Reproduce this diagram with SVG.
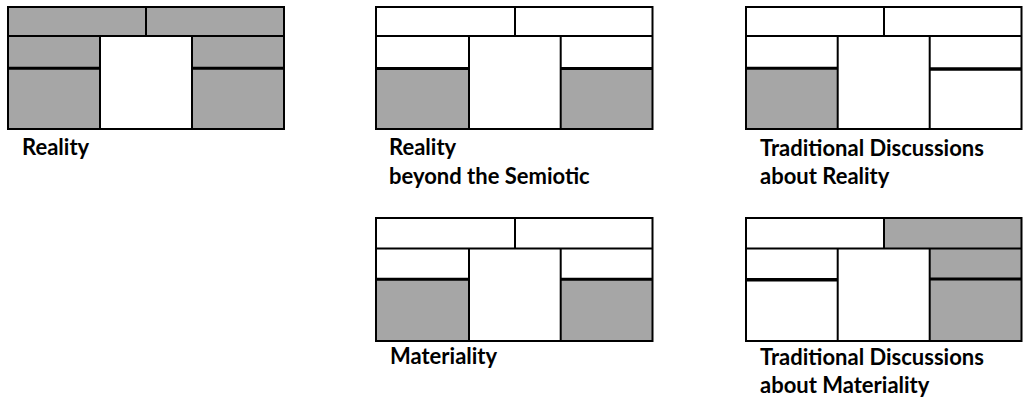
<svg xmlns="http://www.w3.org/2000/svg" width="1023" height="398" viewBox="0 0 1023 398">
<style>
.g{fill:#a6a6a6}
.w{fill:#ffffff}
.ln{stroke:#000;stroke-width:2;fill:none}
.mid{stroke:#000;stroke-width:3;fill:none}
.t{font-family:Lato,"Liberation Sans",sans-serif;font-weight:bold;font-size:22px;fill:#000}
</style>
<rect width="1023" height="398" fill="#fff"/>
<g id="reality">
<rect class="g" x="8" y="7" width="138" height="29"/>
<rect class="g" x="146" y="7" width="138" height="29"/>
<rect class="g" x="8" y="36" width="92" height="32"/>
<rect class="g" x="8" y="68" width="92" height="61"/>
<rect class="w" x="100" y="36" width="92" height="93"/>
<rect class="g" x="192" y="36" width="92" height="32"/>
<rect class="g" x="192" y="68" width="92" height="61"/>
<rect class="ln" x="8" y="7" width="276" height="122"/>
<path class="ln" d="M8 36H284M146 7V36M100 36V129M192 36V129"/>
<path class="mid" d="M8 68.3H100M192 68.3H284"/>
<text class="t" x="22" y="155">Reality</text>
</g>
<g id="reality-beyond-semiotic">
<rect class="w" x="376" y="7" width="276.5" height="122"/>
<rect class="g" x="376" y="68.5" width="93" height="60.5"/>
<rect class="g" x="560.7" y="68.5" width="91.8" height="60.5"/>
<rect class="ln" x="376" y="7" width="276.5" height="122"/>
<path class="ln" d="M376 36H652.5M515 7V36M469 36V129M560.7 36V129"/>
<path class="mid" d="M376 68.5H469M560.7 68.5H652.5"/>
<text class="t" x="389" y="155">Reality</text>
<text class="t" x="389" y="184">beyond the Semiotic</text>
</g>
<g id="traditional-reality">
<rect class="w" x="746" y="7" width="275.5" height="122"/>
<rect class="g" x="746" y="68.5" width="91.7" height="60.5"/>
<rect class="ln" x="746" y="7" width="275.5" height="122"/>
<path class="ln" d="M746 36H1021.5M884 7V36M837.7 36V129M929.7 36V129"/>
<path class="mid" d="M746 68.3H837.7"/>
<path class="mid" d="M929.7 69H1021.5" style="stroke-width:3.5"/>
<text class="t" x="760" y="156">Traditional Discussions</text>
<text class="t" x="760" y="184">about Reality</text>
</g>
<g id="materiality">
<rect class="w" x="376" y="218" width="276.5" height="123"/>
<rect class="g" x="376" y="279.3" width="93" height="61.7"/>
<rect class="g" x="560.7" y="279.3" width="91.8" height="61.7"/>
<rect class="ln" x="376" y="218" width="276.5" height="123"/>
<path class="ln" d="M376 248.5H652.5M515 218V248.5M469 248.5V341M560.7 248.5V341"/>
<path class="mid" d="M376 279.3H469M560.7 279.3H652.5"/>
<text class="t" x="390" y="364">Materiality</text>
</g>
<g id="traditional-materiality">
<rect class="w" x="746" y="218" width="275.5" height="123"/>
<rect class="g" x="884" y="218" width="137.5" height="30.5"/>
<rect class="g" x="929.7" y="248.5" width="91.8" height="92.5"/>
<rect class="ln" x="746" y="218" width="275.5" height="123"/>
<path class="ln" d="M746 248.5H1021.5M884 218V248.5M837.7 248.5V341M929.7 248.5V341"/>
<path class="mid" d="M746 279.7H837.7" style="stroke-width:3.5"/>
<path class="mid" d="M929.7 279H1021.5"/>
<text class="t" x="760" y="365">Traditional Discussions</text>
<text class="t" x="760" y="393">about Materiality</text>
</g>
</svg>
